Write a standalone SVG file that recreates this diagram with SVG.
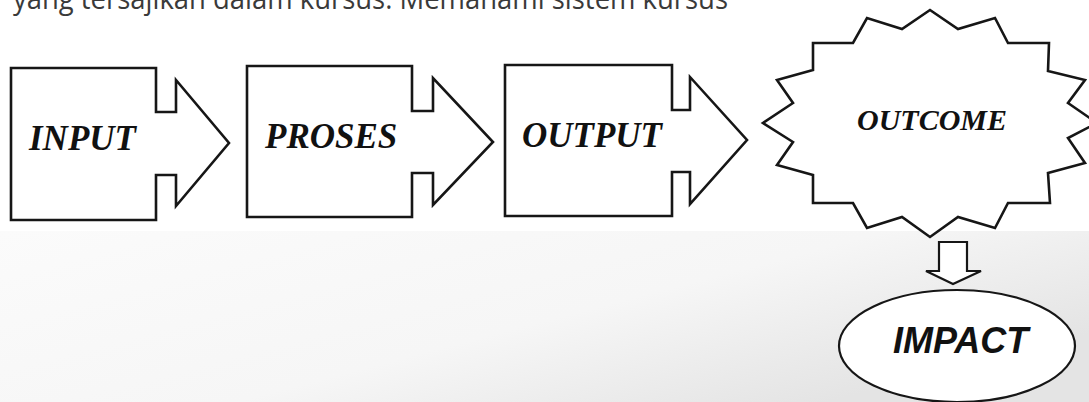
<svg xmlns="http://www.w3.org/2000/svg" width="1089" height="402" viewBox="0 0 1089 402">
  <defs>
    <linearGradient id="band" x1="0" y1="0" x2="1" y2="0.6">
      <stop offset="0" stop-color="#fbfbfb"/>
      <stop offset="0.6" stop-color="#f6f6f6"/>
      <stop offset="1" stop-color="#e4e4e4"/>
    </linearGradient>
    <style>
      .shape { fill: #ffffff; stroke: #161616; stroke-width: 2.6; stroke-linejoin: miter; }
      .thin { fill: #ffffff; stroke: #161616; stroke-width: 2.2; }
      .serif { font-family: "Liberation Serif", "Times New Roman", serif; font-weight: bold; font-style: italic; fill: #111111; }
      .sans { font-family: "Liberation Sans", Arial, sans-serif; font-weight: bold; font-style: italic; fill: #111111; }
      .para { font-family: "Open Sans", "Noto Sans", sans-serif; fill: #3a3a3a; }
    </style>
  </defs>
  <rect x="0" y="0" width="1089" height="402" fill="#ffffff"/>
  <rect x="0" y="231" width="1089" height="171" fill="url(#band)"/>
  <text class="para" x="13" y="9" font-size="29" textLength="715" lengthAdjust="spacingAndGlyphs">yang tersajikan dalam kursus. Memahami sistem kursus</text>

  <g id="connectors">
    <path class="thin" d="M939,242 H967 V271 H981 L953,284 L926,271 H939 Z"/>
  </g>

  <g id="input">
    <path class="shape" d="M11,68 H156 V112 H176 V80 L229,143 L176,206 V175 H156 V220 H11 Z"/>
    <text class="serif" x="29" y="150" font-size="35">INPUT</text>
  </g>
  <g id="proses">
    <path class="shape" d="M247,66 H412 V111 H433 V78 L493,142 L433,205 V173 H412 V217 H247 Z"/>
    <text class="serif" x="265" y="148" font-size="35">PROSES</text>
  </g>
  <g id="output">
    <path class="shape" d="M505,65 H672 V110 H690 V77 L747,140 L690,204 V172 H672 V216 H505 Z"/>
    <text class="serif" x="522" y="147" font-size="35">OUTPUT</text>
  </g>
  <g id="outcome">
    <polygon class="shape" points="930,10 958,29 995,18 1008,43 1049,43 1048,71 1085,80 1068,103 1097,123 1068,138 1085,163 1048,173 1050,203 1008,203 995,228 958,217 930,237 902,217 867,228 853,203 813,203 813,175 777,165 793,142 763,123 793,103 777,80 813,70 813,43 853,43 867,18 902,29"/>
    <text class="serif" x="857" y="130" font-size="30">OUTCOME</text>
  </g>
  <g id="impact">
    <ellipse class="thin" cx="957" cy="346" rx="118" ry="56"/>
    <text class="sans" x="893" y="353" font-size="36">IMPACT</text>
  </g>
</svg>
